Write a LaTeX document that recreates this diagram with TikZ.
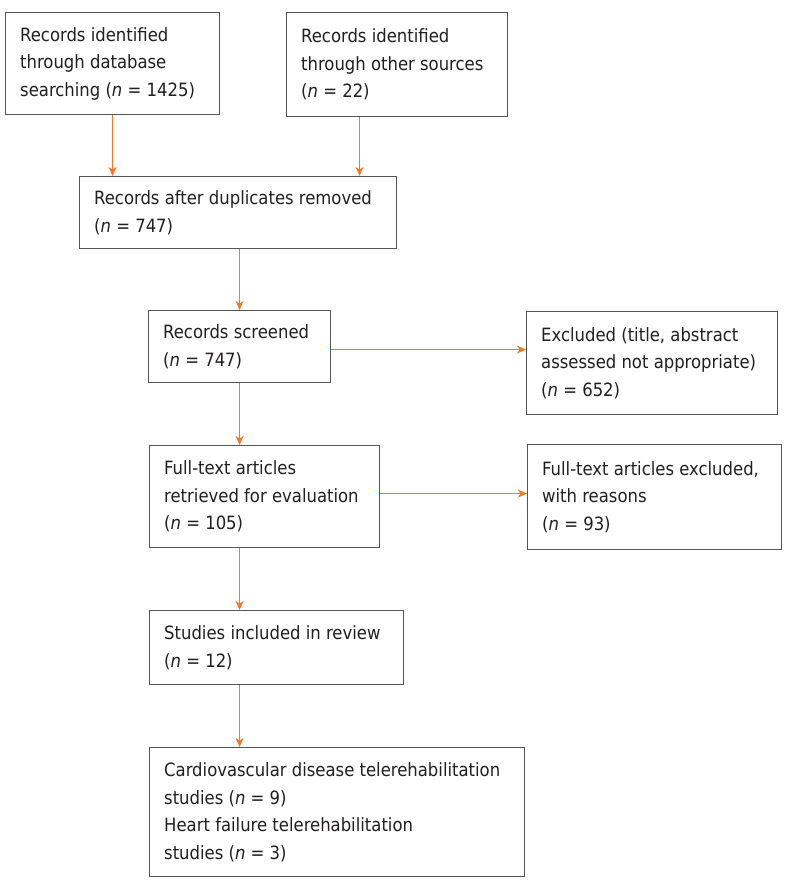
\documentclass[tikz,border=0pt]{standalone}
\usepackage{fontspec}
\setmainfont{DejaVu Sans Condensed}
\usetikzlibrary{arrows.meta,positioning}
\definecolor{arrorange}{RGB}{243,122,40}
\definecolor{boxgray}{RGB}{85,85,85}
\definecolor{txt}{RGB}{35,31,32}
\tikzset{
  flowbox/.style={draw=boxgray, line width=1.1pt, anchor=north west, inner sep=0pt},
  boxtext/.style={anchor=west, inner sep=0pt, align=left, text=txt, font=\fontsize{18.3}{27.5}\selectfont},
  arr/.style={draw=arrorange, line width=1.2pt, -{Stealth[length=9pt,width=8pt,inset=2.5pt]}}
}
\newcommand{\bx}[6]{% name, x1, y1, x2, y2, text
  \node[flowbox, minimum width=#4pt-#2pt, minimum height=#5pt-#3pt] (#1) at (#2,#3) {};
  \node[boxtext] (#1t) at ([xshift=15pt]#1.west) {#6};}
\newcommand{\nn}{\textit{n}}
\begin{document}
\begin{tikzpicture}[x=1pt,y=-1pt]
\useasboundingbox[fill=white] (0,0) rectangle (787,889);
\bx{A}{5}{12}{219}{114}{Records identified\\through database\\searching (\nn{} = 1425)}
\bx{B}{286}{12}{507}{116}{Records identified\\through other sources\\(\nn{} = 22)}
\bx{C}{79}{176}{396}{248}{Records after duplicates removed\\(\nn{} = 747)}
\bx{D}{148}{310}{330}{382}{Records screened\\(\nn{} = 747)}
\bx{E}{526}{311}{777}{414}{Excluded (title, abstract\\assessed not appropriate)\\(\nn{} = 652)}
\bx{F}{149}{445}{379}{547}{Full-text articles\\retrieved for evaluation\\(\nn{} = 105)}
\bx{G}{527}{444}{781}{549}{Full-text articles excluded,\\with reasons\\(\nn{} = 93)}
\bx{H}{149}{610}{403}{684}{Studies included in review\\(\nn{} = 12)}
\bx{I}{149}{747}{524}{876}{Cardiovascular disease telerehabilitation\\studies (\nn{} = 9)\\Heart failure telerehabilitation\\studies (\nn{} = 3)}
\draw[arr] (A.south) -- (A.south |- C.north);
\draw[arr] ([xshift=-37.5pt]B.south) -- ([xshift=-37.5pt]B.south |- C.north);
\draw[arr] (C.south -| D.south) -- (D.north);
\draw[arr] ([yshift=-3pt]D.east) -- ([yshift=-3pt]D.east -| E.west);
\draw[arr] (D.south) -- (D.south |- F.north);
\draw[arr] ([yshift=3pt]F.east) -- ([yshift=3pt]F.east -| G.west);
\draw[arr] (F.south -| D.south) -- (H.north -| D.south);
\draw[arr] (H.south -| D.south) -- (I.north -| D.south);
\end{tikzpicture}
\end{document}
